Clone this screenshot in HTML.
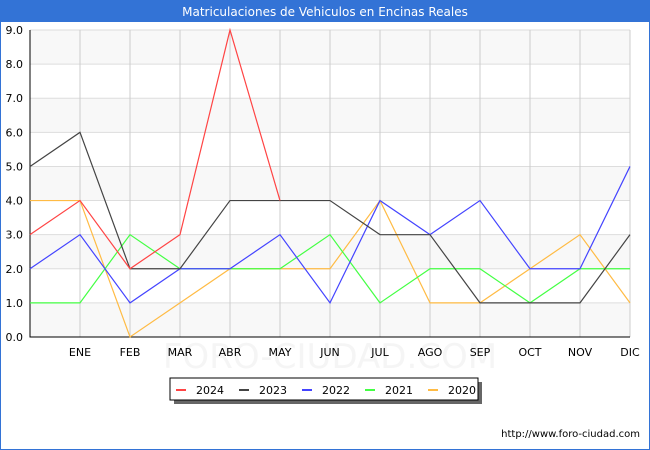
<!DOCTYPE html>
<html><head><meta charset="utf-8"><style>
body{margin:0;background:#fff;font-family:"DejaVu Sans","Liberation Sans",sans-serif}
#wrap{position:relative;width:648px;height:448px;border:1px solid #3373d6;overflow:hidden}
#title{height:21px;background:#3373d6;color:#fff;font-size:12px;text-align:center;line-height:22px}
</style></head><body>
<div id="wrap">
<div id="title">Matriculaciones de Vehiculos en Encinas Reales</div>
<svg id="svg" width="650" height="450" style="position:absolute;left:-1px;top:-1px;font-family:'DejaVu Sans','Liberation Sans',sans-serif"></svg>
</div>
<script>
const months=["","ENE","FEB","MAR","ABR","MAY","JUN","JUL","AGO","SEP","OCT","NOV","DIC"];
const yTicks=[0,1,2,3,4,5,6,7,8,9];
const seriesNames=["2024","2023","2022","2021","2020"];
const seriesColors=["#ff4444","#444444","#4444ff","#44ff44","#ffbb44"];
const s2024=[3,4,2,3,9,4];
const s2023=[5,6,2,2,4,4,4,3,3,1,1,1,3];
const s2022=[2,3,1,2,2,3,1,4,3,4,2,2,5];
const s2021=[1,1,3,2,2,2,3,1,2,2,1,2,2];
const s2020=[4,4,0,1,2,2,2,4,1,1,2,3,1];
const allSeries=[s2024,s2023,s2022,s2021,s2020];
const NS="http://www.w3.org/2000/svg",svg=document.getElementById('svg');
const L=30,R=630,T=30,B=337;
const x=i=>L+i*(R-L)/(months.length-1);
const y=v=>B-v*(B-T)/9;
function mk(t,a,p){const e=document.createElementNS(NS,t);for(const k in a)e.setAttribute(k,a[k]);(p||svg).appendChild(e);return e;}
for(let v=0;v<9;v++){const r=mk('rect',{x:L,y:y(v+1),width:R-L,height:y(v)-y(v+1),fill:v%2==0?'#f8f8f8':'#ffffff'});
}
yTicks.forEach(v=>{const l=mk('line',{x1:L,x2:R,y1:y(v),y2:y(v),stroke:'#dddddd'});

const t=mk('text',{x:L-7,y:y(v)+4,'text-anchor':'end','font-size':11,fill:'#000'});t.textContent=v.toFixed(1);
});
const wm=mk('text',{x:330,y:368,'text-anchor':'middle','font-size':34,fill:'#f5f5f5'});wm.textContent='FORO-CIUDAD.COM';

months.forEach((m,i)=>{if(i>0){const l=mk('line',{x1:x(i),x2:x(i),y1:T,y2:B,stroke:'#cccccc'});
}
const t=mk('text',{x:x(i),y:B+19,'text-anchor':'middle','font-size':11,fill:'#000'});t.textContent=m;
});
const ax=mk('path',{d:`M${L},${T}V${B}H${R}`,fill:'none',stroke:'#000'});

for(let s=allSeries.length-1;s>=0;s--){const pts=allSeries[s].map((v,i)=>x(i)+','+y(v)).join(' ');
const p=mk('polyline',{points:pts,fill:'none',stroke:seriesColors[s],'stroke-width':1.2});
}
const lg=mk('g',{});
mk('rect',{x:174,y:382,width:308,height:22,fill:'#666'},lg);
mk('rect',{x:170,y:378,width:308,height:22,fill:'#fff',stroke:'#000'},lg);
seriesNames.forEach((n,i)=>{const bx=176+i*63;
const e=mk('g',{},lg);
mk('line',{x1:bx,x2:bx+10,y1:390,y2:390,stroke:seriesColors[i],'stroke-width':2},e);
const t=mk('text',{x:bx+20,y:394,'font-size':11,fill:'#000'},e);t.textContent=n;});
const u=mk('text',{x:640,y:437,'text-anchor':'end','font-size':10,fill:'#000'});u.textContent='http://www.foro-ciudad.com';

</script>
</body></html>
